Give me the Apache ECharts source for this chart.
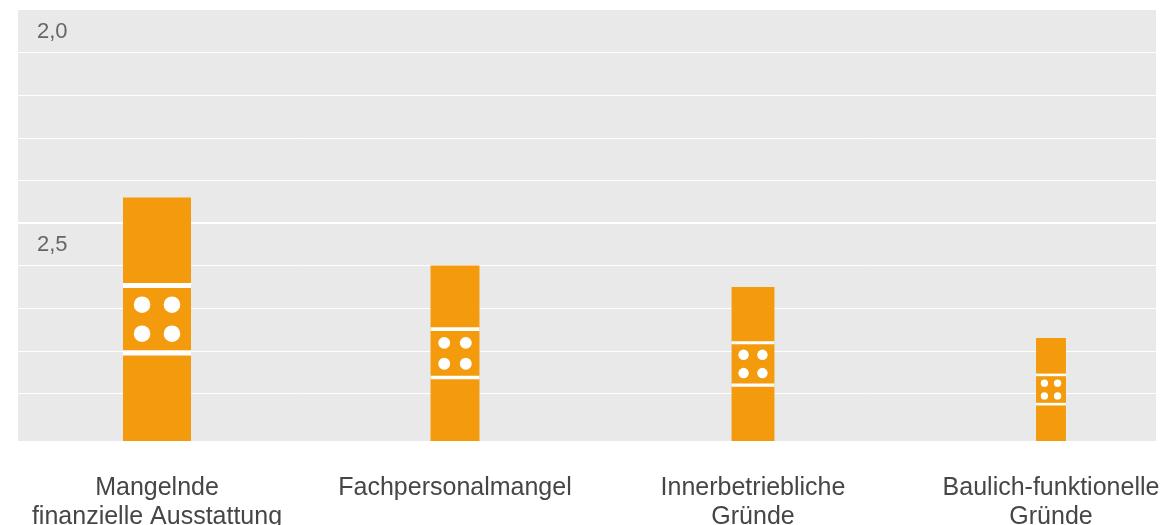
<!DOCTYPE html>
<html lang="de">
<head>
    <meta charset="UTF-8">
    <title>Gründe</title>
    <script src="https://cdn.jsdelivr.net/npm/echarts@6/dist/echarts.min.js"></script>
    <style>
        html, body { margin: 0; padding: 0; background: #fff; }
    </style>
</head>
<body>
    <div id="main" style="width: 1171px; height: 525px;"></div>
    <script>
        // Daten
        var kategorien = [
            'Mangelnde\nfinanzielle Ausstattung',
            'Fachpersonalmangel',
            'Innerbetriebliche\nGründe',
            'Baulich-funktionelle\nGründe'
        ];
        var mittelwerte = [2.44, 2.60, 2.65, 2.77];
        // relative Gewichtung (Balkenbreite), erster Balken = 100
        var gewichtung = [100, 72, 63, 44];
        var skalaMin = 2.0;
        var skalaMax = 3.0;
        var beschriftet = [2.0, 2.5];

        var ORANGE = '#f39b0d';
        var GRAU = '#e9e9e9';
        var MAX_BREITE = 68;

        var dom = document.getElementById('main');
        var chart = echarts.init(dom);

        function renderBalken(params, api) {
            var idx = api.value(0);
            var oben = api.coord([idx, api.value(1)]);
            var basis = api.coord([idx, skalaMax])[1] + 5;
            var w = api.value(2) / 100 * MAX_BREITE;
            var cx = oben[0];
            var x0 = cx - w / 2;
            var cy = (oben[1] + basis) / 2;
            var half = 0.532 * w;
            var t = Math.max(2.6, 0.074 * w);
            var dx = 0.22 * w, dy = 0.213 * w, r = 0.122 * w;
            var weiss = { fill: '#fff' };
            var kinder = [
                { type: 'rect', shape: { x: x0, y: oben[1], width: w, height: basis - oben[1] }, style: { fill: ORANGE } },
                { type: 'rect', shape: { x: x0, y: cy - half, width: w, height: t }, style: weiss },
                { type: 'rect', shape: { x: x0, y: cy + half - t, width: w, height: t }, style: weiss }
            ];
            [[-1, -1], [1, -1], [-1, 1], [1, 1]].forEach(function (p) {
                kinder.push({ type: 'circle', shape: { cx: cx + p[0] * dx, cy: cy + p[1] * dy, r: r }, style: weiss });
            });
            return { type: 'group', children: kinder };
        }

        chart.setOption({
            animation: false,
            graphic: [{
                type: 'rect',
                z: -100,
                shape: { x: 18, y: 10, width: 1138, height: 431 },
                style: { fill: GRAU }
            }],
            grid: [
                { left: 18, top: 10, width: 1138, height: 426, outerBoundsMode: 'none', containLabel: false },
                { left: 8, top: 10, width: 1192, height: 426, outerBoundsMode: 'none', containLabel: false }
            ],
            xAxis: [
                { type: 'category', gridIndex: 0, data: kategorien, show: false },
                {
                    type: 'category',
                    gridIndex: 1,
                    data: kategorien,
                    axisLine: { show: false },
                    axisTick: { show: false },
                    axisLabel: {
                        interval: 0,
                        margin: 38,
                        fontFamily: 'Liberation Sans, Arial, sans-serif',
                        fontSize: 25,
                        lineHeight: 29,
                        color: '#464646'
                    }
                }
            ],
            yAxis: [
                {
                    type: 'value',
                    gridIndex: 0,
                    inverse: true,
                    min: skalaMin,
                    max: skalaMax,
                    interval: 0.1,
                    axisLine: { show: false },
                    axisTick: { show: false },
                    splitLine: {
                        show: true,
                        showMinLine: false,
                        showMaxLine: false,
                        lineStyle: { color: '#ffffff', width: 1 }
                    },
                    axisLabel: {
                        inside: true,
                        margin: 19,
                        align: 'left',
                        verticalAlign: 'top',
                        padding: [11, 0, 0, 0],
                        fontFamily: 'Liberation Sans, Arial, sans-serif',
                        fontSize: 22,
                        color: '#666',
                        formatter: function (v) {
                            for (var i = 0; i < beschriftet.length; i++) {
                                if (Math.abs(v - beschriftet[i]) < 1e-6) {
                                    return beschriftet[i].toFixed(1).replace('.', ',');
                                }
                            }
                            return '';
                        }
                    }
                },
                { type: 'value', gridIndex: 1, inverse: true, min: skalaMin, max: skalaMax, show: false }
            ],
            series: [
                {
                    type: 'line',
                    xAxisIndex: 0,
                    yAxisIndex: 0,
                    data: [null, null, null, null],
                    silent: true,
                    markLine: {
                        silent: true,
                        symbol: 'none',
                        label: { show: false },
                        lineStyle: { color: '#ffffff', width: 2, type: 'solid' },
                        data: [{ yAxis: 2.5 }]
                    }
                },
                {
                    type: 'custom',
                    xAxisIndex: 1,
                    yAxisIndex: 1,
                    z: 5,
                    clip: false,
                    renderItem: renderBalken,
                    encode: { x: 0, y: 1 },
                    data: kategorien.map(function (k, i) {
                        return [i, mittelwerte[i], gewichtung[i]];
                    })
                }
            ]
        });
    </script>
</body>
</html>
